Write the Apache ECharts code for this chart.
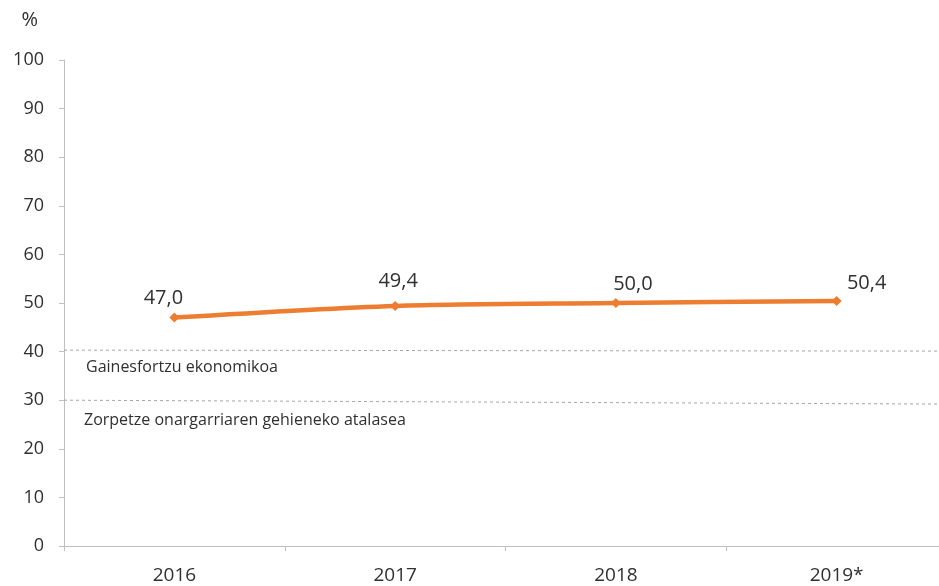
<!DOCTYPE html>
<html>
<head>
<meta charset="utf-8">
<script src="https://cdn.jsdelivr.net/npm/echarts@6/dist/echarts.min.js"></script>
<style>html,body{margin:0;padding:0;background:#fff}#c{width:939px;height:586px}</style>
</head>
<body>
<div id="c"></div>
<script>
const categories = ['2016', '2017', '2018', '2019*'];
const values = [47.0, 49.4, 50.0, 50.4];
const valueLabels = ['47,0', '49,4', '50,0', '50,4'];
const economicEffortLine = [40.3, 40.1];
const debtThresholdLine = [30.0, 29.2];
const economicEffortText = 'Gainesfortzu ekonomikoa';
const debtThresholdText = 'Zorpetze onargarriaren gehieneko atalasea';

const FONT = '"Open Sans", sans-serif';
const TXT = '#303030';
const labelOffsets = [[-11, 3], [3, -3], [17, 3], [30, 4]];

const chart = echarts.init(document.getElementById('c'), null, {renderer: 'canvas'});
chart.setOption({
  animation: false,
  backgroundColor: '#fff',
  grid: {left: 64, width: 883, top: 60, bottom: 40, containLabel: false, outerBoundsMode: 'none'},
  xAxis: [{
    type: 'category', data: categories, boundaryGap: true,
    axisLine: {lineStyle: {color: '#bfbfbf', width: 1}},
    axisTick: {show: true, length: 5, lineStyle: {color: '#bfbfbf'}},
    axisLabel: {color: TXT, fontSize: 19, fontFamily: FONT, margin: 20}
  }, {
    type: 'value', min: 0, max: 1, show: false
  }],
  yAxis: {
    type: 'value', min: 0, max: 100, interval: 10,
    name: '%', nameLocation: 'end', nameGap: 30,
    nameTextStyle: {color: TXT, fontSize: 20, fontFamily: FONT, align: 'right', padding: [0, 26, 0, 0]},
    axisLine: {show: true, lineStyle: {color: '#bfbfbf', width: 1}},
    axisTick: {show: true, length: 5, lineStyle: {color: '#bfbfbf'}},
    axisLabel: {color: TXT, fontSize: 18, fontFamily: FONT, margin: 20},
    splitLine: {show: false}
  },
  series: [{
    type: 'line', xAxisIndex: 1,
    data: economicEffortLine.map((v, i) => [i, v]),
    symbol: 'none', silent: true,
    lineStyle: {color: '#a6a6a6', width: 1, type: [3, 3]}
  }, {
    type: 'line', xAxisIndex: 1,
    data: debtThresholdLine.map((v, i) => [i, v]),
    symbol: 'none', silent: true,
    lineStyle: {color: '#a6a6a6', width: 1, type: [3, 3]}
  }, {
    type: 'line', smooth: 0.3,
    data: values.map((v, i) => ({
      value: v,
      label: {offset: labelOffsets[i], formatter: valueLabels[i]}
    })),
    symbol: 'diamond', symbolSize: 10,
    itemStyle: {color: '#ED7D31'},
    lineStyle: {color: '#ED7D31', width: 4.5},
    label: {show: true, position: 'top', distance: 7, color: TXT, fontSize: 20, fontFamily: FONT}
  }],
  graphic: [{
    type: 'text', left: 86, top: 359,
    style: {text: economicEffortText, fill: TXT, font: '16px ' + FONT}
  }, {
    type: 'text', left: 84, top: 412,
    style: {text: debtThresholdText, fill: TXT, font: '16px ' + FONT}
  }]
});
</script>
</body>
</html>
